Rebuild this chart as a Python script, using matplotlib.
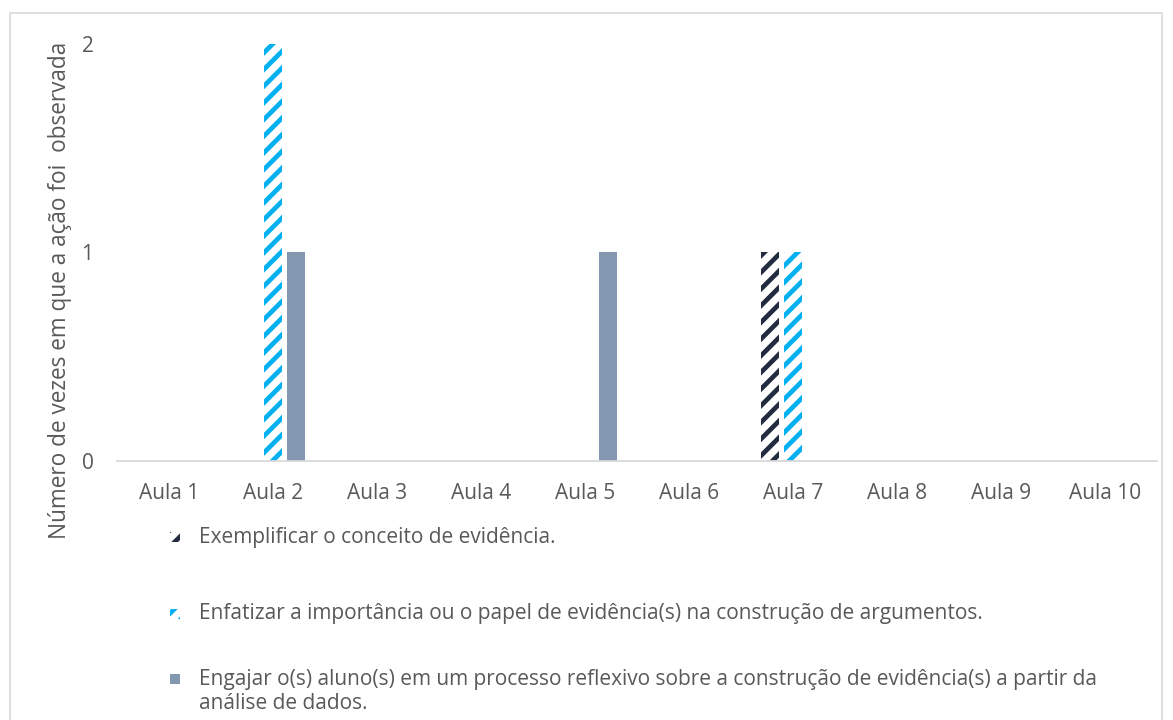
import matplotlib
matplotlib.use("Agg")
import matplotlib.pyplot as plt
from matplotlib.patches import Rectangle
import numpy as np

# Observed counts per lesson for each teaching action
categories = ["Aula 1", "Aula 2", "Aula 3", "Aula 4", "Aula 5",
              "Aula 6", "Aula 7", "Aula 8", "Aula 9", "Aula 10"]
exemplificar = [0, 0, 0, 0, 0, 0, 1, 0, 0, 0]
enfatizar = [0, 2, 0, 0, 0, 0, 1, 0, 0, 0]
engajar = [0, 1, 0, 0, 1, 0, 0, 0, 0, 0]
series_labels = [
    "Exemplificar o conceito de evidência.",
    "Enfatizar a importância ou o papel de evidência(s) na construção de argumentos.",
    "Engajar o(s) aluno(s) em um processo reflexivo sobre a construção de evidência(s) a partir da\nanálise de dados.",
]
y_ticks = [0, 1, 2]
y_label = "Número de vezes em que a ação foi  observada"

W, H = 1173, 720
plt.rcParams["font.family"] = ["Open Sans", "DejaVu Sans"]
plt.rcParams["hatch.linewidth"] = 3.4
TXT = "#595959"
FS = 15

fig = plt.figure(figsize=(W / 100, H / 100), dpi=100)
ax = fig.add_axes([117 / W, 1 - 461 / H, (1157 - 117) / W, (461 - 44) / H])

x = np.arange(len(categories))
bw = 0.175
off = 0.221
styles = [
    dict(facecolor="white", edgecolor="#222B3F", hatch="//", linewidth=0),
    dict(facecolor="white", edgecolor="#00B0F0", hatch="//", linewidth=0),
    dict(facecolor="#8497B0", edgecolor="#8497B0", linewidth=0),
]
for vals, o, st in zip([exemplificar, enfatizar, engajar], [-off, 0, off], styles):
    ax.bar(x + o, vals, width=bw, **st)

ax.set_xlim(-0.5, len(categories) - 0.5)
ax.set_ylim(0, 2)
ax.set_yticks(y_ticks)
ax.set_xticks(x)
ax.set_xticklabels(categories)
ax.tick_params(length=0, labelsize=FS, colors=TXT)
ax.tick_params(axis="x", pad=16)
ax.tick_params(axis="y", pad=17)
for s in ["top", "right", "left"]:
    ax.spines[s].set_visible(False)
ax.spines["bottom"].set_color("#D9D9D9")
ax.spines["bottom"].set_linewidth(1.3)

fig.text(60 / W, 1 - 290 / H, y_label, rotation=90, ha="center", va="center",
         fontsize=16.3, color=TXT)

# Legend drawn below the plot area
entries_y = [537, 614, 679]
for st, lab, yy in zip(styles, series_labels, entries_y):
    fig.patches.append(Rectangle((170 / W, 1 - (yy + 5) / H), 10 / W, 10 / H,
                                 transform=fig.transFigure, **st))
    if "\n" in lab:
        fig.text(199 / W, 1 - (yy - 10) / H, lab, ha="left", va="top",
                 fontsize=FS, color=TXT, linespacing=1.2)
    else:
        fig.text(199 / W, 1 - yy / H, lab, ha="left", va="center",
                 fontsize=FS, color=TXT)

# outer frame
fig.patches.append(Rectangle((10 / W, -0.02), (1162 - 10) / W, 1.02 - 13 / H,
                             transform=fig.transFigure, fill=False,
                             edgecolor="#D9D9D9", linewidth=1.2))

fig.savefig("out.png", dpi=100)
